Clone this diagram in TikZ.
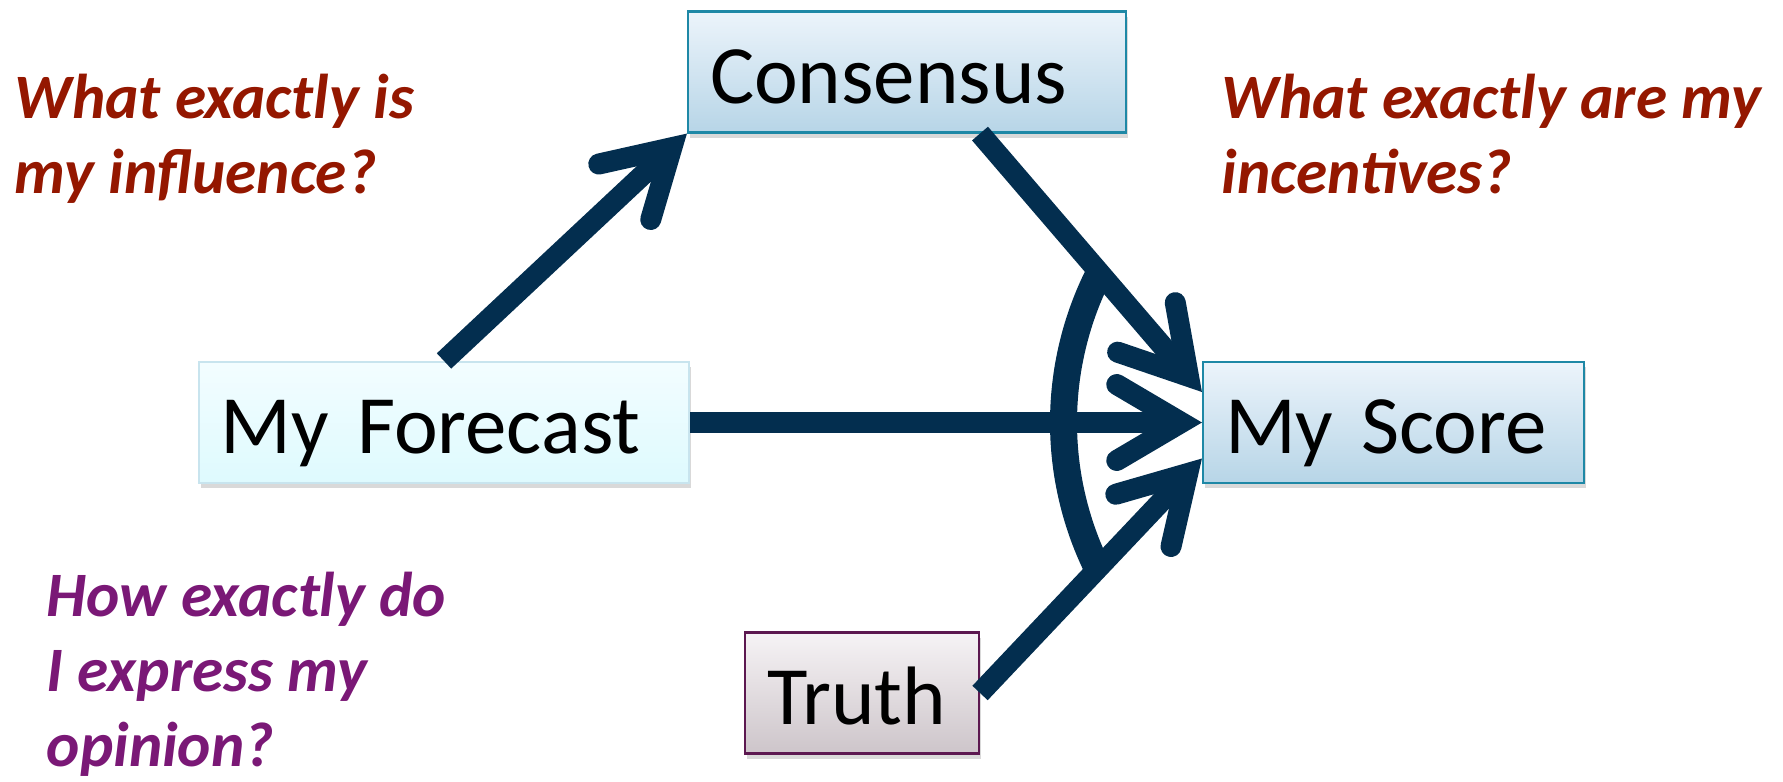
\documentclass[tikz,border=0pt]{standalone}
\usepackage{fontspec}
\setmainfont{Carlito}
\usetikzlibrary{calc}
\usetikzlibrary{arrows.meta,shadows,positioning}

\definecolor{arrowblue}{RGB}{3,46,79}
\definecolor{questred}{RGB}{148,23,0}
\definecolor{questpurple}{RGB}{122,24,118}
\definecolor{bluetop}{RGB}{236,244,251}
\definecolor{bluebottom}{RGB}{183,213,231}
\definecolor{blueedge}{RGB}{30,136,166}
\definecolor{cyantop}{RGB}{243,253,255}
\definecolor{cyanbottom}{RGB}{222,250,254}
\definecolor{cyanedge}{RGB}{200,228,238}
\definecolor{greytop}{RGB}{246,243,245}
\definecolor{greybottom}{RGB}{205,197,202}
\definecolor{purpleedge}{RGB}{92,24,80}

\tikzset{
  boxnode/.style={rectangle,minimum height=1.21cm,inner xsep=0.22cm,inner ysep=0pt,
    align=left,text height=0.8cm,text depth=0.18cm,line width=0.6pt,
    font=\fontsize{23.6}{28}\selectfont,
    drop shadow={shadow xshift=0.02cm,shadow yshift=-0.05cm,opacity=0.3}},
  bluebox/.style={boxnode,top color=bluetop,bottom color=bluebottom,draw=blueedge},
  cyanbox/.style={boxnode,top color=cyantop,bottom color=cyanbottom,draw=cyanedge},
  greybox/.style={boxnode,top color=greytop,bottom color=greybottom,draw=purpleedge},
  question/.style={anchor=base west,align=left,inner sep=0pt,
    font=\fontsize{18}{21.2}\selectfont\bfseries\itshape},
  arrowline/.style={draw=arrowblue,line width=0.21cm,
    arrows={-Straight Barb[length=0.645cm,width=0.76cm,line cap=round,line join=miter]}}
}

\begin{document}
\begin{tikzpicture}

\coordinate (LEFTCORNER) at (0,0);
\useasboundingbox (LEFTCORNER) rectangle ++(17.83,7.81);

%%%%%%%%%%%%%%%%%%%%%

%draw boxes
\node[bluebox,text width=3.94cm] at ($(LEFTCORNER)+(9.07,7.09)$) (CONSENSUS) {Consensus};
\node[cyanbox,text width=4.46cm] at ($(LEFTCORNER)+(4.44,3.585)$) (FORECAST) {My Forecast};
\node[bluebox,text width=3.37cm] at ($(LEFTCORNER)+(13.935,3.585)$) (SCORE) {My Score};
\node[greybox,text width=1.90cm] at ($(LEFTCORNER)+(8.62,0.88)$) (TRUTH) {Truth};

%%%%%%%

%draw questions (anchored on the baseline of the last line)
\node[question,text=questred] at ($(LEFTCORNER)+(0.14,5.88)$) (INFLUENCE) {What exactly is\\my influence?};
\node[question,text=questred] at ($(LEFTCORNER)+(12.21,5.88)$) (INCENTIVES) {What exactly are my\\incentives?};
\node[question,text=questpurple] at ($(LEFTCORNER)+(0.46,0.15)$) (OPINION) {How exactly do\\I express my\\opinion?};

%%%%%%%%%%%%%%%%%%%
%draw arrows

\draw[arrowline] (FORECAST.north) -- (CONSENSUS.south west);
\draw[arrowline] ([xshift=0.73cm]CONSENSUS.south) -- ([yshift=0.305cm]SCORE.west);
\draw[arrowline] (FORECAST.east) -- (SCORE.west);
\draw[arrowline] (TRUTH.east) -- ([yshift=-0.36cm]SCORE.west);

%draw arc over the arrows into the score
\draw[arrowblue,line width=0.27cm] (SCORE.center) ++(153:3.3) arc[start angle=153,end angle=207,radius=3.3];

%%%%%%%%%%%%%%%%%%%%%%

\end{tikzpicture}
\end{document}
